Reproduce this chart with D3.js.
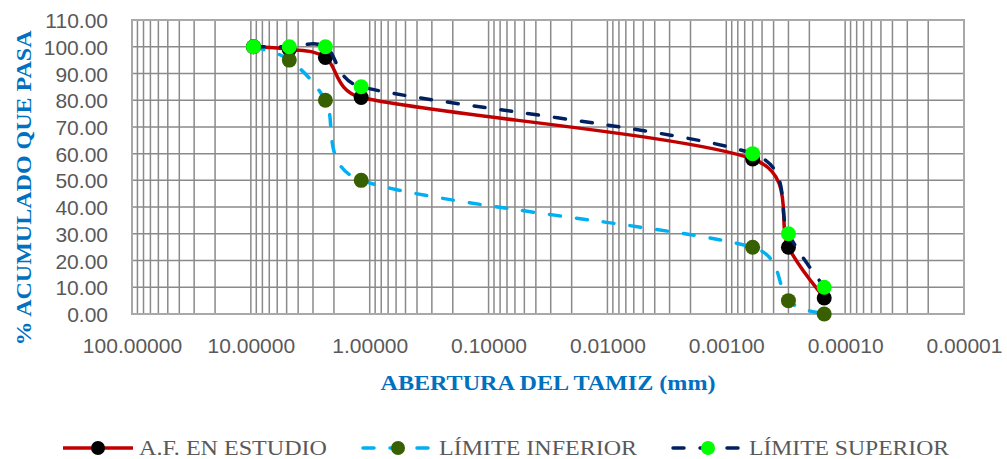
<!DOCTYPE html>
<html>
<head>
<meta charset="utf-8">
<script src="https://cdn.jsdelivr.net/npm/d3@7/dist/d3.min.js"></script>
<style>
  html, body { margin: 0; padding: 0; background: #fff; }
  svg { display: block; }
</style>
</head>
<body>
<svg id="chart" width="1007" height="459"></svg>
<script>
// Sieve openings (mm) and cumulative percent passing
const aberturas = [9.5, 4.75, 2.36, 1.18, 0.0006, 0.0003, 0.00015];
const afEstudio = [100, 99, 96, 81, 58, 25, 6];
const limiteInferior = [100, 95, 80, 50, 25, 5, 0];
const limiteSuperior = [100, 100, 100, 85, 60, 30, 10];

const xTickValues = [100, 10, 1, 0.1, 0.01, 0.001, 0.0001, 0.00001];
const yTickValues = d3.range(0, 111, 10);

const seriesNames = ["A.F. EN ESTUDIO", "LÍMITE INFERIOR", "LÍMITE SUPERIOR"];

const svg = d3.select("#chart");
const plot = { left: 132, right: 964, top: 20, bottom: 314 };

const x = d3.scaleLog().domain([100, 0.00001]).range([plot.left, plot.right]);
const y = d3.scaleLinear().domain([0, 110]).range([plot.bottom, plot.top]);

// Grid: vertical lines at every 1..9 x 10^n, horizontal every 10 %
const gridX = [];
for (let e = -5; e <= 1; e++) for (let k = 1; k <= 9; k++) gridX.push(k * Math.pow(10, e));
gridX.push(100);

const grid = svg.append("g");
grid.selectAll("line.v").data(gridX).join("line")
  .attr("x1", d => x(d)).attr("x2", d => x(d))
  .attr("y1", plot.top).attr("y2", plot.bottom)
  .attr("stroke", "#8a8a8a").attr("stroke-width", 1.5);
grid.selectAll("line.h").data(yTickValues).join("line")
  .attr("x1", plot.left).attr("x2", plot.right)
  .attr("y1", d => y(d)).attr("y2", d => y(d))
  .attr("stroke", "#8a8a8a").attr("stroke-width", 1.5);
svg.append("rect")
  .attr("x", plot.left).attr("y", plot.top)
  .attr("width", plot.right - plot.left).attr("height", plot.bottom - plot.top)
  .attr("fill", "none").attr("stroke", "#a9a9a9").attr("stroke-width", 2);

// Axes (labels only, the grid carries the lines)
const fmt = d3.format(".5f");
const xAxis = svg.append("g")
  .attr("transform", `translate(0,${plot.bottom + 39})`)
  .call(d3.axisBottom(x).tickValues(xTickValues).tickFormat(fmt).tickSize(0).tickPadding(0));
xAxis.select(".domain").remove();
xAxis.selectAll("text")
  .attr("dy", 0).attr("y", 0)
  .attr("font-family", "'Liberation Sans', Arial, sans-serif")
  .attr("font-size", 21).attr("fill", "#595959");

const yAxis = svg.append("g")
  .attr("transform", `translate(108,0)`)
  .call(d3.axisLeft(y).tickValues(yTickValues).tickFormat(d3.format(".2f")).tickSize(0).tickPadding(0));
yAxis.select(".domain").remove();
yAxis.selectAll("text")
  .attr("dy", "0.36em")
  .attr("font-family", "'Liberation Sans', Arial, sans-serif")
  .attr("font-size", 21).attr("fill", "#595959");

// Axis titles
svg.append("text")
  .attr("transform", "translate(31,188) rotate(-90)")
  .attr("text-anchor", "middle")
  .attr("font-family", "'Liberation Serif', 'Times New Roman', serif")
  .attr("font-weight", "bold").attr("font-size", 22)
  .attr("fill", "#0070C0")
  .attr("textLength", 315).attr("lengthAdjust", "spacingAndGlyphs")
  .text("% ACUMULADO QUE PASA");

svg.append("text")
  .attr("x", 548).attr("y", 390)
  .attr("text-anchor", "middle")
  .attr("font-family", "'Liberation Serif', 'Times New Roman', serif")
  .attr("font-weight", "bold").attr("font-size", 22)
  .attr("fill", "#0070C0")
  .attr("textLength", 335).attr("lengthAdjust", "spacingAndGlyphs")
  .text("ABERTURA DEL TAMIZ (mm)");

// Smoothed path: tangent follows the neighbouring points, handle length
// limited to half of the segment so short steps do not loop back.
function smoothPath(pts) {
  const n = pts.length;
  const tang = pts.map((p, i) => {
    const a = pts[Math.max(i - 1, 0)], b = pts[Math.min(i + 1, n - 1)];
    return [(b[0] - a[0]) / 6, (b[1] - a[1]) / 6];
  });
  const clamp = (t, len) => {
    const l = Math.hypot(t[0], t[1]);
    const cap = len * 0.5;
    return l > cap && l > 0 ? [t[0] * cap / l, t[1] * cap / l] : t;
  };
  const p = d3.path();
  p.moveTo(pts[0][0], pts[0][1]);
  for (let i = 0; i < n - 1; i++) {
    const p0 = pts[i], p1 = pts[i + 1];
    const len = Math.hypot(p1[0] - p0[0], p1[1] - p0[1]);
    const t0 = clamp(tang[i], len), t1 = clamp(tang[i + 1], len);
    p.bezierCurveTo(p0[0] + t0[0], p0[1] + t0[1], p1[0] - t1[0], p1[1] - t1[1], p1[0], p1[1]);
  }
  return p.toString();
}

const series = [
  { name: seriesNames[0], values: afEstudio, line: "#C00000", marker: "#000000", dash: null },
  { name: seriesNames[1], values: limiteInferior, line: "#00B0F0", marker: "#386000", dash: "11,16" },
  { name: seriesNames[2], values: limiteSuperior, line: "#002060", marker: "#00FF00", dash: "11,16" }
];

series.forEach(s => {
  const pts = aberturas.map((a, i) => [x(a), y(s.values[i])]);
  const g = svg.append("g");
  g.append("path")
    .attr("d", smoothPath(pts))
    .attr("fill", "none").attr("stroke", s.line).attr("stroke-width", 3.5)
    .attr("stroke-linecap", "round")
    .attr("stroke-dasharray", s.dash);
  g.selectAll("circle").data(aberturas).join("circle")
    .attr("cx", d => x(d))
    .attr("cy", (d, i) => y(s.values[i]))
    .attr("r", 7.5).attr("fill", s.marker);
});

// Legend
const legendStarts = [63, 363, 673];
const legendWidths = [188, 198, 200];
const legendY = 448;
series.forEach((s, i) => {
  const g = svg.append("g").attr("transform", `translate(${legendStarts[i]},${legendY})`);
  g.append("line")
    .attr("x1", 0).attr("x2", 70).attr("y1", 0).attr("y2", 0)
    .attr("stroke", s.line).attr("stroke-width", 3.5)
    .attr("stroke-linecap", s.dash ? "round" : "butt")
    .attr("stroke-dasharray", s.dash ? "11,16" : null);
  g.append("circle").attr("cx", 35).attr("cy", 0).attr("r", 7).attr("fill", s.marker);
  g.append("text")
    .attr("x", 76).attr("y", 6.5)
    .attr("font-family", "'Liberation Serif', 'Times New Roman', serif")
    .attr("font-size", 20).attr("fill", "#595959")
    .attr("textLength", legendWidths[i]).attr("lengthAdjust", "spacingAndGlyphs")
    .text(s.name);
});
</script>
</body>
</html>
